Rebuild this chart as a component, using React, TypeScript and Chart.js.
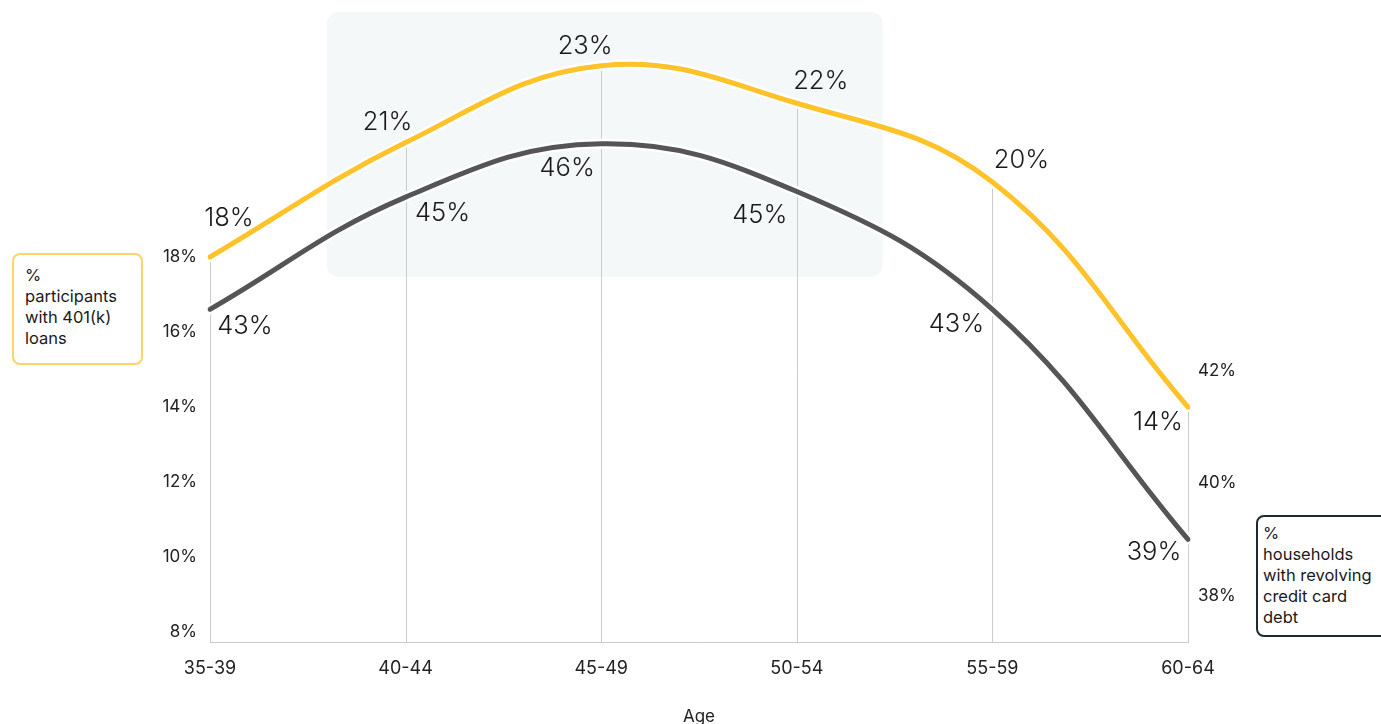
import React, { useEffect, useRef } from "react";
import { Chart, registerables } from "chart.js";

Chart.register(...registerables);

const ageGroups = ["35-39", "40-44", "45-49", "50-54", "55-59", "60-64"];
const loanShare = [18.0, 21.05, 23.1, 22.1, 20.0, 14.0];
const creditCardDebt = [43.1, 45.1, 46.05, 45.2, 43.1, 39.0];
const leftTicks = [8, 10, 12, 14, 16, 18];
const rightTicks = [38, 40, 42];

const YELLOW = "#FFC329";
const GRAY = "#555557";
const FONT = "Inter, 'Noto Sans', sans-serif";

// label offsets (px) relative to each point
const loanLabelOffsets = [
  [19, -39],
  [-18, -20],
  [-16, -19],
  [24, -22],
  [29, -22],
  [-30, 15],
];
const debtLabelOffsets = [
  [35, 17],
  [37, 16],
  [-34, 25],
  [-37, 24],
  [-36, 15],
  [-34, 13],
];

const decorPlugin = {
  id: "decor",
  beforeDatasetsDraw(chart: any) {
    const { ctx, scales } = chart;
    const x = scales.x;
    const y = scales.y;
    ctx.save();
    // highlight box
    const x0 = x.getPixelForValue(0.597);
    const x1 = x.getPixelForValue(3.44);
    const y0 = y.getPixelForValue(24.53);
    const y1 = y.getPixelForValue(17.47);
    ctx.fillStyle = "#F4F8F9";
    ctx.beginPath();
    ctx.roundRect(x0, y0, x1 - x0, y1 - y0, 12);
    ctx.fill();
    // vertical drop lines from loan points
    const meta = chart.getDatasetMeta(0);
    ctx.strokeStyle = "#CCCCCC";
    ctx.lineWidth = 1;
    meta.data.forEach((pt: any) => {
      ctx.beginPath();
      ctx.moveTo(Math.round(pt.x) + 0.5, pt.y);
      ctx.lineTo(Math.round(pt.x) + 0.5, chart.chartArea.bottom);
      ctx.stroke();
    });
    ctx.restore();
  },
  afterDatasetsDraw(chart: any) {
    const { ctx } = chart;
    ctx.save();
    ctx.font = `300 25.5px ${FONT}`;
    ctx.fillStyle = "#1A1A1A";
    ctx.textAlign = "center";
    ctx.textBaseline = "middle";
    const loanMeta = chart.getDatasetMeta(0);
    loanMeta.data.forEach((pt: any, i: number) => {
      const [dx, dy] = loanLabelOffsets[i];
      ctx.fillText(Math.round(loanShare[i]) + "%", pt.x + dx, pt.y + dy);
    });
    const debtMeta = chart.getDatasetMeta(2);
    debtMeta.data.forEach((pt: any, i: number) => {
      const [dx, dy] = debtLabelOffsets[i];
      ctx.fillText(Math.round(creditCardDebt[i]) + "%", pt.x + dx, pt.y + dy);
    });
    ctx.restore();
  },
};

export default function App() {
  const ref = useRef<HTMLCanvasElement | null>(null);

  useEffect(() => {
    document.body.style.margin = "0";
    const canvas = ref.current;
    if (!canvas) return;
    const tickFont = { family: FONT, size: 17 };
    const xTickFont = { family: FONT, size: 18 };
    const chart = new Chart(canvas, {
      type: "line",
      data: {
        labels: ageGroups,
        datasets: [
          {
            label: "% participants with 401(k) loans",
            data: loanShare,
            yAxisID: "y",
            borderColor: YELLOW,
            borderWidth: 5,
            tension: 0.4,
            pointRadius: 0,
            borderCapStyle: "round",
            order: 1,
          },
          {
            label: "outline1",
            data: loanShare,
            yAxisID: "y",
            borderColor: "#FFFFFF",
            borderWidth: 10,
            tension: 0.4,
            pointRadius: 0,
            borderCapStyle: "round",
            order: 2,
          },
          {
            label: "% households with revolving credit card debt",
            data: creditCardDebt,
            yAxisID: "y2",
            borderColor: GRAY,
            borderWidth: 5,
            tension: 0.4,
            pointRadius: 0,
            borderCapStyle: "round",
            order: 3,
          },
          {
            label: "outline2",
            data: creditCardDebt,
            yAxisID: "y2",
            borderColor: "#FFFFFF",
            borderWidth: 10,
            tension: 0.4,
            pointRadius: 0,
            borderCapStyle: "round",
            order: 4,
          },
        ],
      },
      options: {
        responsive: true,
        maintainAspectRatio: false,
        animation: false,
        layout: { padding: { top: 20, left: 0, right: 0, bottom: 0 } },
        plugins: {
          legend: { display: false },
          tooltip: { enabled: false },
        },
        scales: {
          x: {
            type: "category",
            offset: false,
            grid: { display: false, drawTicks: false },
            border: { display: true, color: "#CCCCCC", width: 1 },
            ticks: { font: xTickFont, color: "#222222", padding: 16, maxRotation: 0 },
            title: {
              display: true,
              text: "Age",
              font: tickFont,
              color: "#222222",
              padding: { top: 0, bottom: -3 },
            },
            afterFit(scale: any) {
              scale.height = 82;
            },
          },
          y: {
            type: "linear",
            position: "left",
            min: 7.735,
            max: 24.234,
            grid: { display: false, drawTicks: false },
            border: { display: false },
            ticks: {
              font: tickFont,
              color: "#222222",
              padding: 13,
              callback: (v: any) => v + "%",
            },
            afterBuildTicks(scale: any) {
              scale.ticks = leftTicks.map((v) => ({ value: v }));
            },
            afterFit(scale: any) {
              scale.width = 210;
            },
          },
          y2: {
            type: "linear",
            position: "right",
            min: 37.17,
            max: 48.2,
            grid: { display: false, drawTicks: false },
            border: { display: false },
            ticks: {
              font: tickFont,
              color: "#222222",
              padding: 10,
              callback: (v: any) => v + "%",
            },
            afterBuildTicks(scale: any) {
              scale.ticks = rightTicks.map((v) => ({ value: v }));
            },
            afterFit(scale: any) {
              scale.width = 193;
            },
          },
        },
      },
      plugins: [decorPlugin],
    } as any);
    return () => chart.destroy();
  }, []);

  const boxText: React.CSSProperties = {
    position: "absolute",
    fontFamily: FONT,
    fontSize: 16.5,
    lineHeight: "21px",
    color: "#1A1A1A",
    boxSizing: "border-box",
    borderRadius: 8,
    background: "#FFFFFF",
    whiteSpace: "nowrap",
  };

  return (
    <div
      style={{
        position: "fixed",
        left: 0,
        top: 0,
        width: 1381,
        height: 724,
        overflow: "hidden",
        background: "#FFFFFF",
      }}
    >
      <canvas ref={ref} />
      <div
        style={{
          ...boxText,
          left: 12,
          top: 253,
          width: 131,
          height: 112,
          border: "2px solid #FFD466",
          padding: "10px 0 0 11px",
        }}
      >
        %<br />
        participants<br />
        with 401(k)<br />
        loans
      </div>
      <div
        style={{
          ...boxText,
          left: 1256,
          top: 515,
          width: 140,
          height: 122,
          border: "2px solid #1E2A30",
          padding: "6px 0 0 5px",
        }}
      >
        %<br />
        households<br />
        with revolving<br />
        credit card<br />
        debt
      </div>
    </div>
  );
}
